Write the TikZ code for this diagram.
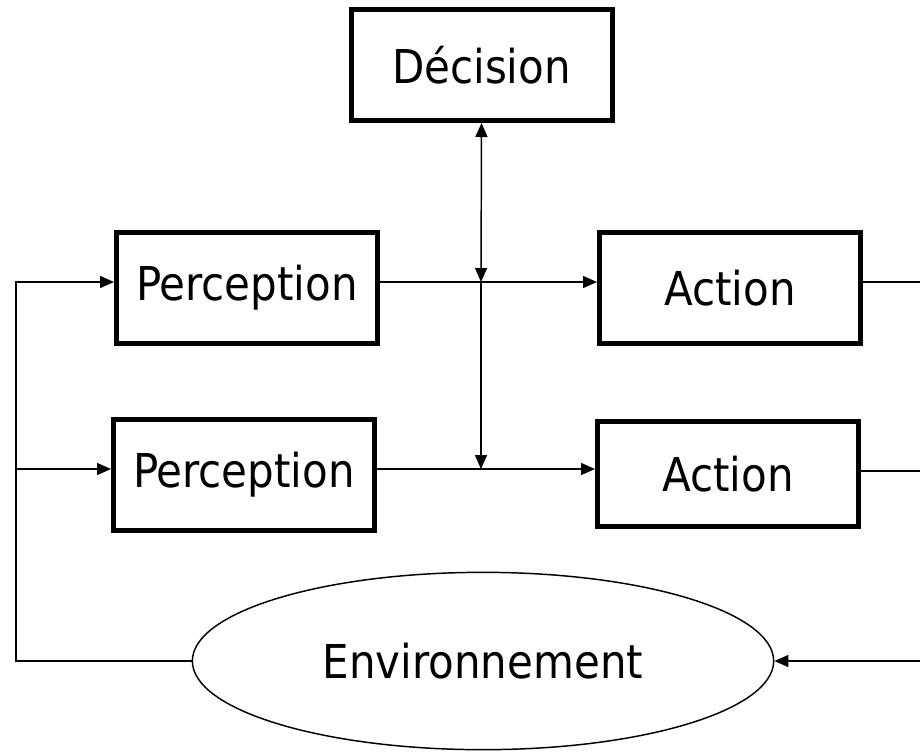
\documentclass[tikz,border=0pt]{standalone}
\usepackage{fontspec}
\setmainfont{DejaVu Sans Condensed}
\usetikzlibrary{arrows.meta,calc,positioning,shapes.geometric}

\begin{document}
\begin{tikzpicture}[x=0.75pt,y=-0.75pt,
  font=\fontsize{35}{40}\selectfont,
  agbox/.style={draw,line width=3.75pt,minimum width=195.75pt,minimum height=83.25pt,inner sep=0pt},
  agenv/.style={ellipse,draw,line width=1.1pt,minimum width=436pt,minimum height=133pt,inner sep=0pt},
  agflow/.style={line width=1.1pt,-{Triangle[length=10.5pt,width=9pt]}},
  agline/.style={line width=1.1pt}]
  \path[use as bounding box] (0,0) rectangle (920,751);

  \node[agbox] (dec) at (481.5,65) {Décision};
  \node[agbox] (perc1) at (247,288) {Perception};
  \node[agbox] (act1) at (730,288) {Action};
  \node[agbox] (perc2) at (244,475) {Perception};
  \node[agbox,minimum height=79pt] (act2) at (728,474) {Action};
  \node[agenv] (env) at (483,661) {Environnement};

  % junctions on the vertical bus, loop corner on the left, open ends on the right
  \coordinate (j1) at (481,282);
  \coordinate (j2) at (481,469);
  \coordinate (fbl) at (16,661);
  \coordinate (r1) at (920,282);
  \coordinate (r2) at (920,471);
  \coordinate (r3) at (920,661);

  \draw[agflow,{Triangle[length=10.5pt,width=9pt]}-{Triangle[length=10.5pt,width=9pt]}]
    (dec.south) -- (j1);
  \draw[agflow] (j1) -- (j2);
  \draw[agflow] (perc1.east |- j1) -- (act1.west |- j1);
  \draw[agflow] (perc2.east |- j2) -- (act2.west |- j2);

  \draw[agline] (act1.east |- r1) -- (r1);
  \draw[agline] (act2.east |- r2) -- (r2);
  \draw[agflow] (r3) -- (env.east);

  \draw[agflow] (env.west) -- (fbl) |- (perc1.west |- j1);
  \draw[agflow] (fbl |- j2) -- (perc2.west |- j2);
\end{tikzpicture}
\end{document}
